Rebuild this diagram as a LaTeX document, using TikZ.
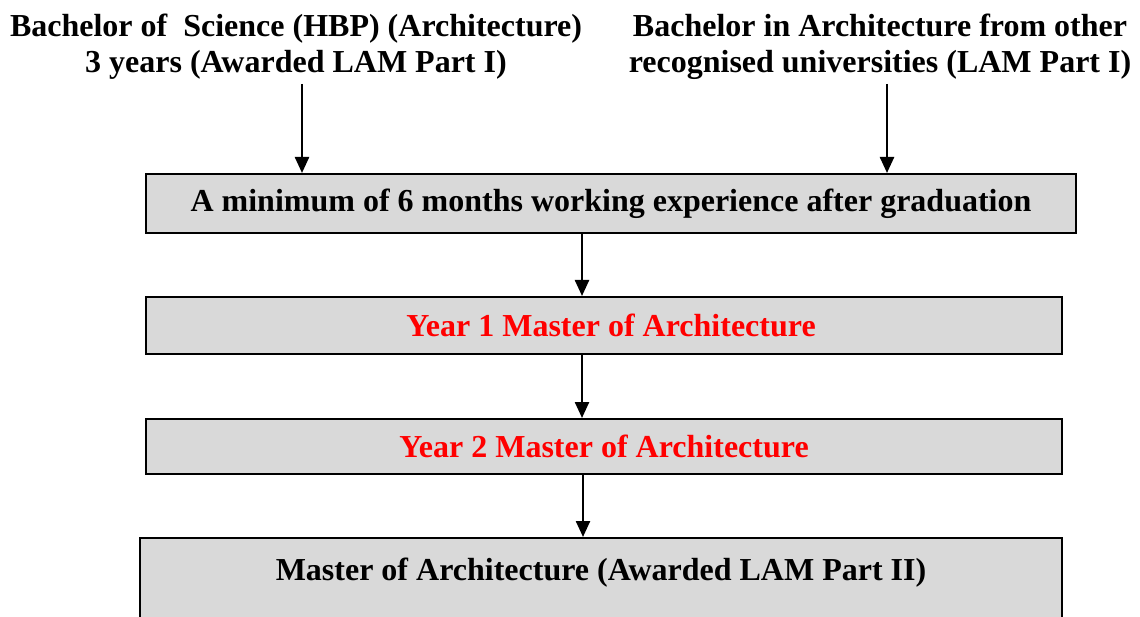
\documentclass[tikz,border=0pt]{standalone}
\usepackage{fontspec}
\setmainfont{Liberation Serif}
\usepackage{xcolor}
\usetikzlibrary{positioning,arrows.meta,calc}

\definecolor{boxgray}{HTML}{D9D9D9}
\tikzset{
  stage/.style={draw=black, line width=2pt, fill=boxgray, anchor=north west, align=center,
    inner sep=0pt, font=\bfseries\fontsize{32}{37}\selectfont},
  source/.style={align=center, inner sep=4pt, font=\bfseries\fontsize{32}{36}\selectfont},
  flow/.style={-{Triangle[length=16pt,width=14pt]}, line width=2.4pt},
}

\begin{document}
\begin{tikzpicture}[x=1pt, y=-1pt]
        \useasboundingbox (0,0) rectangle (1140,617);

        % entry routes
        \node[source] (bsc) at (296,47) {Bachelor of~~Science (HBP) (Architecture)\\3 years (Awarded LAM Part I)};
        \node[source] (barch) at (880,47) {Bachelor in Architecture from other\\recognised universities (LAM Part I)};

        % stages of the programme
        \node[stage, minimum width=930, minimum height=59] (exp) at (145,173)
            {A minimum of 6 months working experience after graduation};
        \node[stage, minimum width=916, minimum height=57, text=red] (yearone) at (145,296)
            {\hspace*{14pt}Year 1 Master of Architecture};
        \node[stage, minimum width=916, minimum height=55, text=red] (yeartwo) at (145,418)
            {Year 2 Master of Architecture};
        \node[stage, minimum width=922, inner ysep=20pt] (march) at (139,537)
            {Master of Architecture (Awarded LAM Part II)\\ ~\\ ~};

        % arrows
        \draw[flow] (bsc.south -| 302,0) -- (exp.north -| 302,0);
        \draw[flow] (barch.south -| 887,0) -- (exp.north -| 887,0);
        \draw[flow] (exp.south -| 582,0) -- (yearone.north -| 582,0);
        \draw[flow] (yearone.south -| 582,0) -- (yeartwo.north -| 582,0);
        \draw[flow] (yeartwo.south -| 583,0) -- (march.north -| 583,0);
    \end{tikzpicture}
\end{document}
